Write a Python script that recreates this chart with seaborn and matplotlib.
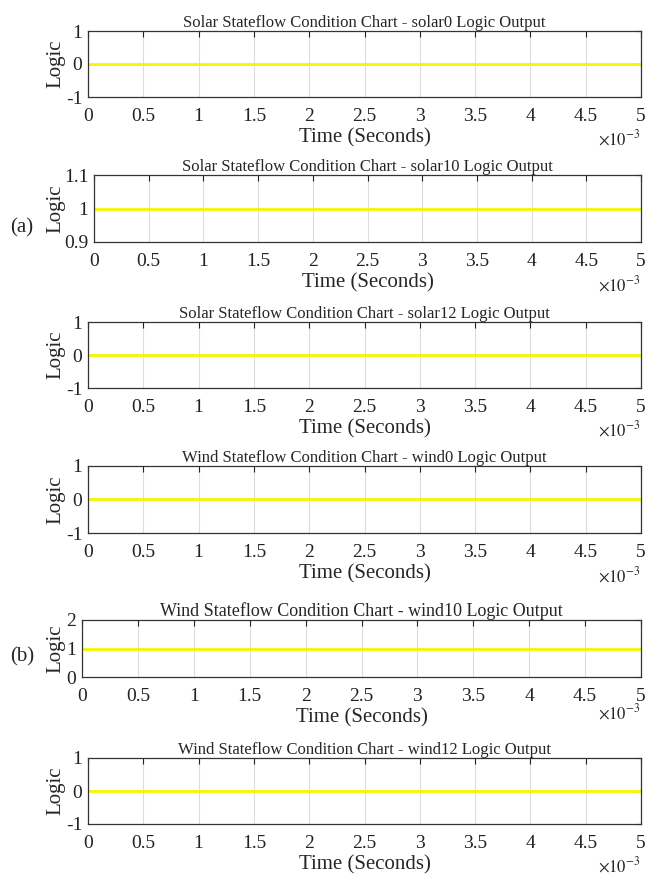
import numpy as np
import pandas as pd
import matplotlib
matplotlib.use("Agg")
import matplotlib.pyplot as plt
import seaborn as sns
from matplotlib.ticker import FuncFormatter

# Data
time_s = [0.0, 0.005]
titles = [
    "Solar Stateflow Condition Chart - solar0 Logic Output",
    "Solar Stateflow Condition Chart - solar10 Logic Output",
    "Solar Stateflow Condition Chart - solar12 Logic Output",
    "Wind Stateflow Condition Chart - wind0 Logic Output",
    "Wind Stateflow Condition Chart - wind10 Logic Output",
    "Wind Stateflow Condition Chart - wind12 Logic Output",
]
solar0 = [0, 0]
solar10 = [1, 1]
solar12 = [0, 0]
wind0 = [0, 0]
wind10 = [1, 1]
wind12 = [0, 0]
series = [solar0, solar10, solar12, wind0, wind10, wind12]
ylims = [(-1, 1), (0.9, 1.1), (-1, 1), (-1, 1), (0, 2), (-1, 1)]
yticks = [[-1, 0, 1], [0.9, 1, 1.1], [-1, 0, 1], [-1, 0, 1], [0, 1, 2], [-1, 0, 1]]
ytick_labels = [["-1", "0", "1"], ["0.9", "1", "1.1"], ["-1", "0", "1"],
                ["-1", "0", "1"], ["0", "1", "2"], ["-1", "0", "1"]]
xticks = [0, 0.0005, 0.001, 0.0015, 0.002, 0.0025, 0.003, 0.0035, 0.004, 0.0045, 0.005]

sns.set_style("white")
plt.rcParams["font.family"] = ["Liberation Serif", "DejaVu Serif"]
plt.rcParams["mathtext.fontset"] = "stix"

W, H = 645, 875
fig = plt.figure(figsize=(W / 100, H / 100), dpi=100)

# axes boxes in pixels: left, top, bottom
boxes = [(88, 31, 97), (94, 175, 242), (88, 322, 388),
         (88, 466, 533), (82, 620, 677), (88, 758, 824)]
right = 641
title_sizes = [12, 12, 12, 12, 13, 12]

for i in range(6):
    l, t, b = boxes[i]
    ax = fig.add_axes([l / W, 1 - b / H, (right - l) / W, (b - t) / H])
    df = pd.DataFrame({"t": time_s, "v": series[i]})
    sns.lineplot(data=df, x="t", y="v", ax=ax, color="#f5f500", linewidth=2)
    ax.set_xlim(0, 0.005)
    ax.set_ylim(*ylims[i])
    ax.set_xticks(xticks)
    ax.xaxis.set_major_formatter(FuncFormatter(lambda v, p: f"{v * 1000:g}"))
    ax.set_yticks(yticks[i])
    ax.set_yticklabels(ytick_labels[i])
    ax.grid(axis="x", color="#dddddd", linewidth=0.8)
    ax.tick_params(direction="in", length=4, width=0.8, top=True, right=True,
                   labelsize=14, pad=4, colors="#222222")
    ax.tick_params(axis="x", pad=8)
    for sp in ax.spines.values():
        sp.set_color("#333333")
        sp.set_linewidth(0.9)
    ax.set_title(titles[i], fontsize=title_sizes[i], pad=3)
    ax.set_xlabel("Time (Seconds)", fontsize=15, labelpad=2)
    ax.set_ylabel("Logic", fontsize=15)
    ax.yaxis.set_label_coords((65 - l) / (right - l), 0.5)
    ax.text(1.0, -0.64, r"$\times10^{-3}$", transform=ax.transAxes,
            ha="right", va="center", fontsize=12)

fig.text(10 / W, 1 - 228 / H, "(a)", fontsize=15, ha="left", va="center")
fig.text(10 / W, 1 - 657 / H, "(b)", fontsize=15, ha="left", va="center")

fig.savefig("out.png", dpi=100)
